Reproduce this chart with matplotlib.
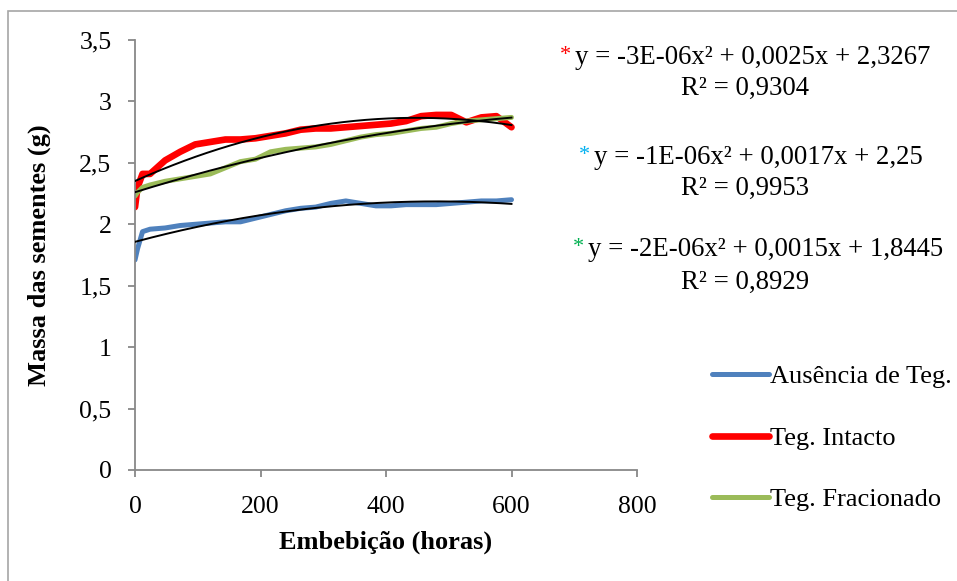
import matplotlib
matplotlib.use('Agg')
import matplotlib.pyplot as plt
from matplotlib.patches import Rectangle
import numpy as np


# horas de embebição
horas = [0, 4, 12, 24, 48, 72, 96, 120, 144, 168, 192, 216, 240, 264, 288, 312, 336, 360,
         384, 408, 432, 456, 480, 504, 528, 552, 576, 600]
# massa das sementes (g)
ausencia = [1.71, 1.80, 1.94, 1.96, 1.97, 1.99, 2.00, 2.01, 2.02, 2.02, 2.05, 2.08, 2.11, 2.13,
            2.14, 2.17, 2.19, 2.17, 2.15, 2.15, 2.16, 2.16, 2.16, 2.17, 2.18, 2.19, 2.19, 2.20]
intacto = [2.14, 2.30, 2.41, 2.41, 2.52, 2.59, 2.65, 2.67, 2.69, 2.69, 2.70, 2.72, 2.74, 2.77,
           2.78, 2.78, 2.79, 2.80, 2.81, 2.82, 2.84, 2.88, 2.89, 2.89, 2.83, 2.87, 2.88, 2.79]
fracionado = [2.23, 2.26, 2.30, 2.32, 2.35, 2.37, 2.39, 2.41, 2.46, 2.51, 2.53, 2.59, 2.61, 2.62,
              2.63, 2.65, 2.68, 2.71, 2.73, 2.74, 2.76, 2.78, 2.79, 2.82, 2.84, 2.85, 2.86, 2.87]

labels = ['Ausência de Teg.', 'Teg. Intacto', 'Teg. Fracionado']
colors = ['#4F81BD', '#FF0000', '#9BBB59']
widths = [3.6, 4.8, 3.6]

# equações das linhas de tendência (como aparecem no gráfico)
equacoes = [
    ('y = -3E-06x² + 0,0025x + 2,3267', 'R² = 0,9304', '#FF0000'),
    ('y = -1E-06x² + 0,0017x + 2,25', 'R² = 0,9953', '#00B0F0'),
    ('y = -2E-06x² + 0,0015x + 1,8445', 'R² = 0,8929', '#00B050'),
]

plt.rcParams['font.family'] = ['Liberation Serif', 'DejaVu Serif']

fig = plt.figure(figsize=(9.57, 5.81), dpi=100)
ax = fig.add_axes([135 / 957, 1 - 470 / 581, (637 - 135) / 957, (470 - 40) / 581])

x = np.array(horas, dtype=float)
lines = []
for serie, label, color, lw in zip([ausencia, intacto, fracionado], labels, colors, widths):
    ln, = ax.plot(x, serie, color=color, lw=lw, label=label, solid_capstyle='round',
                  solid_joinstyle='round', zorder=2)
    lines.append(ln)

# tendência polinomial de ordem 2
xs = np.linspace(0, 600, 200)
for serie in [ausencia, intacto, fracionado]:
    coef = np.polyfit(x, serie, 2)
    ax.plot(xs, np.polyval(coef, xs), color='black', lw=1.4, zorder=3)

ax.set_xlim(0, 800)
ax.set_ylim(0, 3.5)
ax.set_xticks([0, 200, 400, 600, 800])
ax.set_yticks(np.arange(0, 3.51, 0.5))
ax.set_yticklabels(['0', '0,5', '1', '1,5', '2', '2,5', '3', '3,5'])

for side in ['top', 'right']:
    ax.spines[side].set_visible(False)
for side in ['left', 'bottom']:
    ax.spines[side].set_color('#888888')
    ax.spines[side].set_linewidth(1.3)
ax.tick_params(axis='both', direction='out', length=5, width=1.3, color='#888888',
               labelsize=18.5)
ax.tick_params(axis='y', pad=12)
ax.tick_params(axis='x', pad=14)

ax.set_xlabel('Embebição (horas)', fontsize=19, fontweight='bold', labelpad=9)
ax.set_ylabel('Massa das sementes (g)', fontsize=19, fontweight='bold', labelpad=20)

fig.legend(handles=lines, loc='center left', bbox_to_anchor=(712 / 957, 1 - 438 / 581),
           frameon=False, fontsize=19, handlelength=2.15, handletextpad=0.05,
           labelspacing=1.45, borderaxespad=0, borderpad=0)

# equações
pos = [(575, 58, 88), (594, 157, 188), (588, 250, 282)]
for (eq, r2, cor), (x0, y1, y2) in zip(equacoes, pos):
    fig.text(x0 / 957, 1 - y1 / 581, eq, fontsize=19.3, ha='left', va='center')
    fig.text((x0 - 4) / 957, 1 - (y1 - 2) / 581, '*', color=cor, fontsize=16,
             ha='right', va='center')
    fig.text(745 / 957, 1 - y2 / 581, r2, fontsize=19.3, ha='center', va='center')

# moldura do gráfico
fig.patches.append(Rectangle((8 / 957, -0.05), 1.2, 1 - 11 / 581 + 0.05,
                             transform=fig.transFigure, fill=False,
                             edgecolor='#A6A6A6', lw=1.2))

fig.savefig('out.png', dpi=100)
